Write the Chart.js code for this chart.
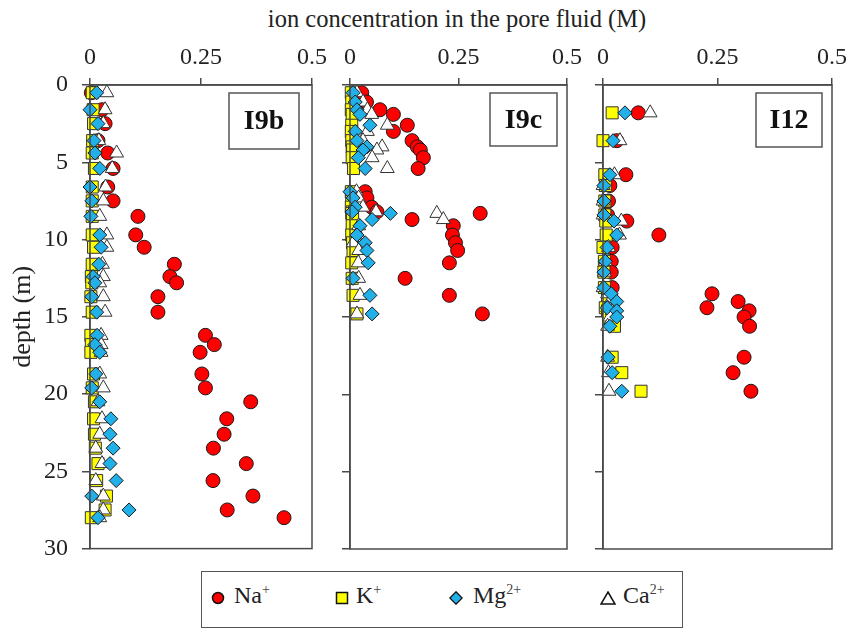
<!DOCTYPE html>
<html>
<head>
<meta charset="utf-8">
<script src="https://cdn.jsdelivr.net/npm/chart.js@4.4.1/dist/chart.umd.min.js"></script>
<style>
  body { margin: 0; background: #fff; width: 849px; height: 632px; overflow: hidden; font-family: "Liberation Serif", serif; position: relative; }
  .cv { position: absolute; top: 0; height: 577px; }
  #title { position: absolute; top: 5px; left: 0; width: 914px; text-align: center; font-size: 24.5px; color: #222; }
  #legend { position: absolute; left: 201px; top: 571px; width: 482px; height: 57px; border: 1.5px solid #555; box-sizing: border-box; background: #fff; }
  .lg { position: absolute; top: 10px; font-size: 24px; color: #222; }
  .lg sup { font-size: 14px; vertical-align: 9px; line-height: 0; color: #444; }
  .mk { position: absolute; top: 19px; }
</style>
</head>
<body>
<div id="title">ion concentration in the pore fluid (M)</div>
<div class="cv" style="left:0;width:340px"><canvas id="c1"></canvas></div>
<div class="cv" style="left:330px;width:265px"><canvas id="c2"></canvas></div>
<div class="cv" style="left:585px;width:275px"><canvas id="c3"></canvas></div>
<div id="legend">
  <svg class="mk" style="left:9px" width="14" height="14"><circle cx="7" cy="7" r="5.5" fill="#ff0000" stroke="#111" stroke-width="1.5"/></svg>
  <span class="lg" style="left:32px">Na<sup>+</sup></span>
  <svg class="mk" style="left:133px" width="14" height="14"><rect x="1.5" y="1.5" width="11" height="11" fill="#ffff00" stroke="#111" stroke-width="1.5"/></svg>
  <span class="lg" style="left:154px">K<sup>+</sup></span>
  <svg class="mk" style="left:247px" width="14" height="14"><polygon points="7,0.8 13.2,7 7,13.2 0.8,7" fill="#22b0e8" stroke="#111" stroke-width="1.3"/></svg>
  <span class="lg" style="left:271px">Mg<sup>2+</sup></span>
  <svg class="mk" style="left:398px" width="16" height="14"><polygon points="8,1 15,13 1,13" fill="#fff" stroke="#111" stroke-width="1.5"/></svg>
  <span class="lg" style="left:421px">Ca<sup>2+</sup></span>
</div>
<script>
// ── Datos ──────────────────────────────────────────────────────────────
const xTicks = [0, 0.25, 0.5];
const yTicks = [0, 5, 10, 15, 20, 25, 30];

// I9b
const depthI9b = [0.5, 1.6, 2.5, 3.6, 4.4, 5.4, 6.6, 7.5, 8.5, 9.7, 10.5, 11.6, 12.4, 12.8, 13.7, 14.7, 16.2, 16.8, 17.3, 18.7, 19.6, 20.5, 21.6, 22.6, 23.5, 24.5, 25.6, 26.6, 27.5, 28.0];
const naI9b = [0.003, 0.027, 0.034, 0.018, 0.04, 0.052, 0.04, 0.052, 0.108, 0.103, 0.122, 0.19, 0.18, 0.195, 0.153, 0.153, 0.26, 0.28, 0.248, 0.252, 0.26, 0.362, 0.308, 0.302, 0.278, 0.352, 0.277, 0.367, 0.309, 0.437];
const kI9b  = [0.005, 0.007, 0.008, 0.006, 0.005, 0.01, 0.005, 0.005, 0.005, 0.005, 0.008, 0.005, 0.003, 0.004, 0.002, 0.005, 0.002, 0.003, 0.002, 0.008, 0.005, 0.01, 0.008, 0.01, 0.012, 0.018, 0.015, 0.037, 0.034, 0.003];
const mgI9b = [0.015, 0.0, 0.018, 0.009, 0.011, 0.022, 0.0, 0.004, 0.002, 0.022, 0.025, 0.02, 0.007, 0.011, 0.004, 0.015, 0.016, 0.011, 0.022, 0.013, 0.004, 0.022, 0.047, 0.045, 0.052, 0.045, 0.059, 0.004, 0.088, 0.018];
const caI9b = [0.038, 0.034, 0.03, 0.02, 0.06, 0.05, 0.035, 0.03, 0.022, 0.038, 0.038, 0.028, 0.03, 0.022, 0.03, 0.034, 0.025, 0.025, 0.025, 0.022, 0.03, 0.018, 0.027, 0.022, 0.013, 0.027, 0.013, 0.03, 0.03, 0.022];

// I9c
const depthI9c = [0.5, 1.1, 1.6, 1.9, 2.6, 3.0, 3.6, 4.0, 4.2, 4.7, 5.4, 6.9, 7.3, 7.9, 8.2, 8.3, 8.7, 9.1, 9.7, 10.2, 10.7, 11.5, 12.5, 13.6, 14.8];
const naI9c = [0.027, 0.038, 0.069, 0.1, 0.132, 0.1, 0.143, 0.155, 0.162, 0.169, 0.157, 0.035, 0.039, 0.05, 0.062, 0.30, 0.143, 0.238, 0.236, 0.243, 0.248, 0.229, 0.127, 0.229, 0.305];
const kI9c  = [0.003, 0.004, 0.003, 0.005, 0.004, 0.003, 0.004, 0.005, 0.006, 0.005, 0.008, 0.003, 0.004, 0.003, 0.005, 0.004, 0.006, 0.005, 0.004, 0.006, 0.007, 0.004, 0.005, 0.007, 0.016];
const mgI9c = [0.007, 0.012, 0.016, 0.023, 0.046, 0.012, 0.016, 0.039, 0.03, 0.019, 0.035, 0.0, 0.007, 0.012, 0.005, 0.093, 0.051, 0.023, 0.016, 0.035, 0.039, 0.042, 0.007, 0.046, 0.051];
const caI9c = [0.016, 0.03, 0.04, 0.05, 0.086, 0.04, 0.03, 0.074, 0.062, 0.051, 0.086, 0.015, 0.02, 0.03, 0.06, 0.2, 0.215, 0.02, 0.02, 0.007, 0.02, 0.019, 0.02, 0.023, 0.016];

// I12
const depthI12 = [1.8, 3.6, 5.8, 6.5, 7.5, 8.4, 8.8, 9.7, 10.5, 11.4, 12.1, 13.1, 13.5, 14.0, 14.4, 14.6, 15.0, 15.6, 17.6, 18.6, 19.8];
const naI12 = [0.077, 0.03, 0.05, 0.015, 0.012, 0.01, 0.052, 0.122, 0.02, 0.018, 0.018, 0.02, 0.238, 0.295, 0.227, 0.319, 0.308, 0.32, 0.308, 0.284, 0.323];
const kI12  = [0.02, 0.0, 0.004, 0.005, 0.004, 0.004, 0.006, 0.007, 0.0, 0.003, 0.002, 0.003, 0.01, 0.01, 0.005, 0.01, 0.012, 0.025, 0.02, 0.041, 0.083];
const mgI12 = [0.048, 0.022, 0.015, 0.002, 0.002, 0.002, 0.024, 0.03, 0.009, 0.005, 0.002, 0.002, 0.018, 0.03, 0.009, 0.03, 0.03, 0.015, 0.011, 0.02, 0.041];
const caI12 = [0.103, 0.037, 0.025, 0.0, 0.0, 0.0, 0.04, 0.036, 0.012, 0.005, 0.003, 0.0, 0.01, 0.015, 0.01, 0.02, 0.015, 0.01, 0.01, 0.012, 0.013];

// ── Estilos ────────────────────────────────────────────────────────────
const FONT = '"Liberation Serif", "Times New Roman", serif';
const INK = '#222';
const AXIS = '#4a4a4a';

function pts(depth, vals) {
  return depth.map((d, i) => ({ x: vals[i], y: d }));
}

function makeDatasets(depth, na, k, mg, ca) {
  const base = { showLine: false, clip: false, borderWidth: 1 };
  return [
    { ...base, label: 'Na+',  data: pts(depth, na), pointStyle: 'circle',  pointRadius: 7,   backgroundColor: '#ff0000', borderColor: '#1a1a1a', order: 3 },
    { ...base, label: 'K+',   data: pts(depth, k),  pointStyle: 'rect',    pointRadius: 8.5, backgroundColor: '#ffff00', borderColor: '#333',    order: 2 },
    { ...base, label: 'Mg2+', data: pts(depth, mg), pointStyle: 'rectRot', pointRadius: 7,   backgroundColor: '#22b0e8', borderColor: '#1a1a1a', order: 0 },
    { ...base, label: 'Ca2+', data: pts(depth, ca), pointStyle: 'triangle',pointRadius: 8,   backgroundColor: '#ffffff', borderColor: '#333',    order: 1 },
  ];
}

// marco del panel + etiqueta del sondeo
const panelFrame = {
  id: 'panelFrame',
  afterDatasetsDraw(chart, args, opts) {
    const { ctx, chartArea: a } = chart;
    ctx.save();
    ctx.strokeStyle = AXIS;
    ctx.lineWidth = 1.5;
    ctx.strokeRect(a.left, a.top, a.right - a.left, a.bottom - a.top);
    const x = a.right - opts.right - opts.w, y = a.top + 8;
    ctx.fillStyle = '#fff';
    ctx.fillRect(x, y, opts.w, opts.h);
    ctx.strokeStyle = '#555';
    ctx.lineWidth = 1.5;
    ctx.strokeRect(x, y, opts.w, opts.h);
    ctx.fillStyle = '#111';
    ctx.font = 'bold 28px ' + FONT;
    ctx.textAlign = 'center';
    ctx.textBaseline = 'middle';
    ctx.fillText(opts.text, x + opts.w / 2, y + opts.h / 2 + 1);
    ctx.restore();
  }
};

function makeChart(id, datasets, cfg) {
  return new Chart(document.getElementById(id), {
    type: 'scatter',
    data: { datasets },
    plugins: [panelFrame],
    options: {
      animation: false,
      responsive: true, maintainAspectRatio: false,
      layout: { padding: { top: 0, bottom: cfg.padBottom, left: 0, right: cfg.padRight } },
      plugins: {
        legend: { display: false },
        tooltip: { enabled: false },
        panelFrame: cfg.label
      },
      scales: {
        x: {
          type: 'linear', position: 'top', min: 0, max: 0.5,
          afterBuildTicks: s => { s.ticks = xTicks.map(v => ({ value: v })); },
          afterFit: s => { s.height = 85; },
          grid: { drawOnChartArea: false, drawTicks: true, tickLength: 7, color: AXIS, lineWidth: 1.5 },
          border: { display: true, color: AXIS, width: 1.5 },
          ticks: { color: INK, padding: 6, maxRotation: 0, font: { family: FONT, size: 24 }, callback: v => String(v) }
        },
        y: {
          type: 'linear', reverse: true, min: 0, max: 30,
          afterBuildTicks: s => { s.ticks = yTicks.map(v => ({ value: v })); },
          afterFit: s => { s.width = cfg.yWidth; },
          grid: { drawOnChartArea: false, drawTicks: true, tickLength: 8, color: AXIS, lineWidth: 1.5 },
          border: { display: true, color: AXIS, width: 1.5 },
          ticks: { display: cfg.yLabels, color: INK, padding: 14, font: { family: FONT, size: 24 } },
          title: { display: cfg.yLabels, text: 'depth (m)', color: INK, padding: { top: 8, bottom: 0 }, font: { family: FONT, size: 26 } }
        }
      }
    }
  });
}

makeChart('c1', makeDatasets(depthI9b, naI9b, kI9b, mgI9b, caI9b),
  { padRight: 28, padBottom: 0, yWidth: 90, yLabels: true, label: { text: 'I9b', w: 70, h: 56, right: 13 } });
makeChart('c2', makeDatasets(depthI9c, naI9c, kI9c, mgI9c, caI9c),
  { padRight: 28, padBottom: 28, yWidth: 20, yLabels: false, label: { text: 'I9c', w: 67, h: 53, right: 10 } });
makeChart('c3', makeDatasets(depthI12, naI12, kI12, mgI12, caI12),
  { padRight: 28, padBottom: 28, yWidth: 18, yLabels: false, label: { text: 'I12', w: 66, h: 54, right: 10 } });
</script>
</body>
</html>
